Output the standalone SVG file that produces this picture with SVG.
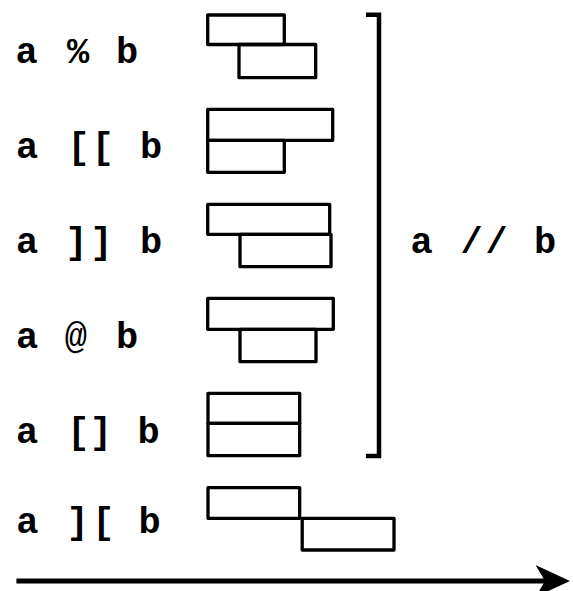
<svg xmlns="http://www.w3.org/2000/svg" width="573" height="591" viewBox="0 0 573 591">
  <style>
    .lbl { font-family: "Courier New", "Liberation Mono", monospace; font-weight: bold; font-size: 37px; fill: #000; }
    .thin { font-weight: normal; }
    .box { fill: none; stroke: #000; stroke-width: 3.3; stroke-linejoin: round; }
    .rule { fill: none; stroke: #000; stroke-width: 4.5; }
  </style>
  <defs>
    <!-- notched head; refX sits on the notch so the shaft ends inside it -->
    <marker id="head" markerUnits="userSpaceOnUse" markerWidth="40" markerHeight="40" refX="9.5" refY="16" orient="auto">
      <path d="M34.5,16 L0,0 L9.5,16 L0,32 Z" fill="#000"/>
    </marker>
  </defs>
  <rect width="573" height="591" fill="#fff"/>

  <!-- a % b -->
  <g id="row-percent">
    <text class="lbl" text-anchor="middle" y="63.3"><tspan x="26.7">a</tspan><tspan x="78">%</tspan><tspan x="127">b</tspan></text>
    <rect class="box" x="207.7" y="15" width="76.6" height="29.5"/>
    <rect class="box" x="239" y="44.5" width="76.7" height="33.2"/>
  </g>

  <!-- a [[ b -->
  <g id="row-starts">
    <text class="lbl" text-anchor="middle" y="158"><tspan x="27">a</tspan><tspan x="78.7">[</tspan><tspan x="102.8">[</tspan><tspan x="151">b</tspan></text>
    <rect class="box" x="207.7" y="109.3" width="125" height="31"/>
    <rect class="box" x="207.7" y="140.3" width="76.6" height="32"/>
  </g>

  <!-- a ]] b -->
  <g id="row-ends">
    <text class="lbl" text-anchor="middle" y="253.3"><tspan x="27">a</tspan><tspan x="76.3">]</tspan><tspan x="101.3">]</tspan><tspan x="151">b</tspan></text>
    <rect class="box" x="207.7" y="204.3" width="122" height="30"/>
    <rect class="box" x="240" y="234.3" width="91" height="32.4"/>
  </g>

  <!-- a @ b -->
  <g id="row-during">
    <text class="lbl" text-anchor="middle" y="348.3"><tspan x="27">a</tspan><tspan class="thin" x="75.8">@</tspan><tspan x="127">b</tspan></text>
    <rect class="box" x="207.7" y="298.3" width="125.6" height="31"/>
    <rect class="box" x="240" y="329.3" width="76" height="32.4"/>
  </g>

  <!-- a [] b -->
  <g id="row-equal">
    <text class="lbl" text-anchor="middle" y="443.3"><tspan x="27">a</tspan><tspan x="78.3">[</tspan><tspan x="100.8">]</tspan><tspan x="148.7">b</tspan></text>
    <rect class="box" x="208" y="393.3" width="91.7" height="30"/>
    <rect class="box" x="208" y="423.3" width="91.7" height="32.4"/>
  </g>

  <!-- a ][ b -->
  <g id="row-meets">
    <text class="lbl" text-anchor="middle" y="533.3"><tspan x="27.3">a</tspan><tspan x="77.7">]</tspan><tspan x="103.3">[</tspan><tspan x="149.5">b</tspan></text>
    <rect class="box" x="208" y="487.7" width="91.7" height="30.6"/>
    <rect class="box" x="302.2" y="518.3" width="91.8" height="31.7"/>
  </g>

  <!-- a // b, grouping the first five relations -->
  <g id="group-overlap">
    <path class="rule" d="M366,14.7 H379 V456 H366"/>
    <text class="lbl" text-anchor="middle" y="253.3"><tspan x="421.7">a</tspan><tspan x="471.7">/</tspan><tspan x="496.7">/</tspan><tspan x="545">b</tspan></text>
  </g>

  <!-- time axis -->
  <g id="connectors">
    <line x1="16.4" y1="581" x2="545" y2="581" stroke="#000" stroke-width="5" marker-end="url(#head)"/>
  </g>
</svg>
